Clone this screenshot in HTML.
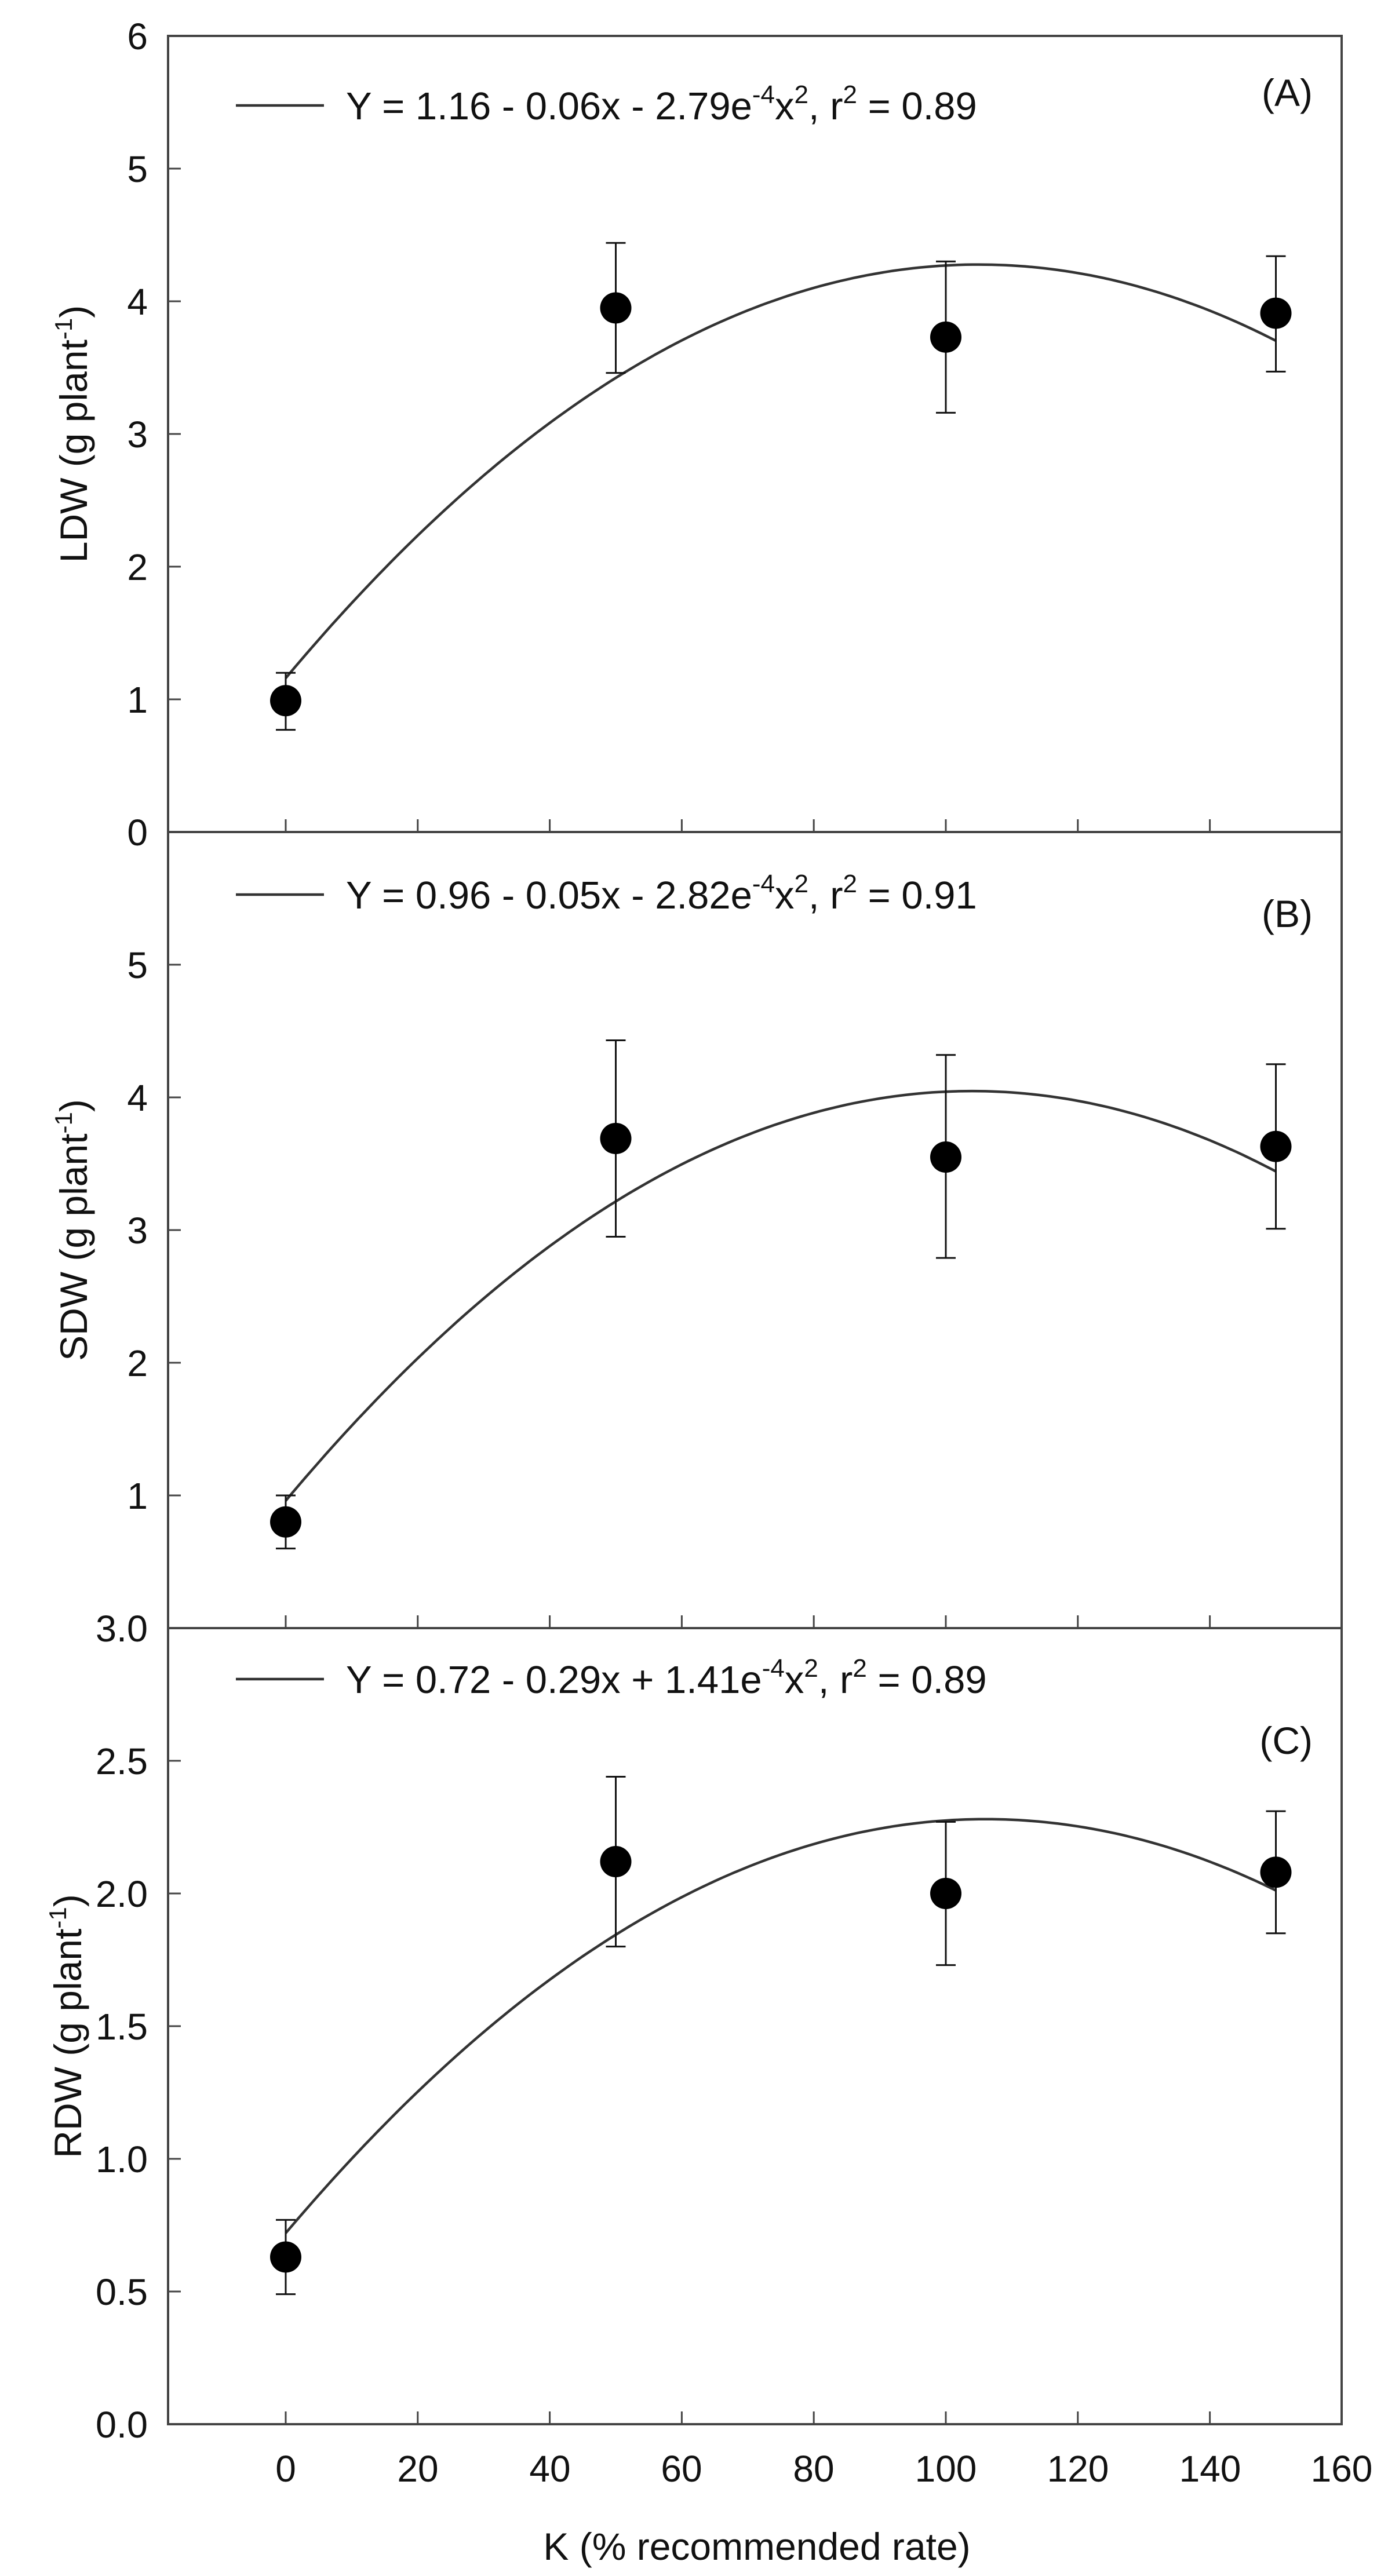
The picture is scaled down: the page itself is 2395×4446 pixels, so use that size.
<!DOCTYPE html>
<html><head><meta charset="utf-8"><style>html,body{margin:0;padding:0;background:#fff}svg{display:block}</style></head>
<body>
<svg width="2395" height="4446" viewBox="0 0 2395 4446" xmlns="http://www.w3.org/2000/svg" font-family="Liberation Sans, Arial, sans-serif" fill="#111">
<defs>
<style>
.ax{stroke:#444;stroke-width:4;fill:none}
.tk{stroke:#444;stroke-width:3}
.cv{stroke:#333;stroke-width:4.5;fill:none}
.eb{stroke:#111;stroke-width:3}
.tl{font-size:64px}
.lg{font-size:67px}
</style>
</defs>
<rect class="ax" x="290" y="62" width="2025" height="4122"/>
<line class="ax" x1="290" y1="1436" x2="2315" y2="1436"/>
<line class="ax" x1="290" y1="2810" x2="2315" y2="2810"/>

<g id="ticks"></g>
<g id="content"></g>

<g class="tl" text-anchor="middle">
<text x="493" y="4283">0</text><text x="721" y="4283">20</text><text x="949" y="4283">40</text>
<text x="1176" y="4283">60</text><text x="1404" y="4283">80</text><text x="1632" y="4283">100</text>
<text x="1860" y="4283">120</text><text x="2088" y="4283">140</text><text x="2315" y="4283">160</text>
</g>
<text x="1306" y="4418" font-size="66" text-anchor="middle">K (% recommended rate)</text>

<text transform="translate(150,749) rotate(-90)" font-size="66" text-anchor="middle">LDW (g plant<tspan font-size="42" dy="-26">-1</tspan><tspan dy="26">)</tspan></text>
<text transform="translate(150,2123) rotate(-90)" font-size="66" text-anchor="middle">SDW (g plant<tspan font-size="42" dy="-26">-1</tspan><tspan dy="26">)</tspan></text>
<text transform="translate(140,3497) rotate(-90)" font-size="66" text-anchor="middle">RDW (g plant<tspan font-size="42" dy="-26">-1</tspan><tspan dy="26">)</tspan></text>

<text x="2265" y="183" font-size="66" text-anchor="end">(A)</text>
<text x="2265" y="1600" font-size="66" text-anchor="end">(B)</text>
<text x="2265" y="3027" font-size="66" text-anchor="end">(C)</text>

<line class="cv" x1="407" y1="182" x2="559" y2="182"/>
<text class="lg" x="597" y="206">Y = 1.16 - 0.06x - 2.79e<tspan font-size="44" dy="-28">-4</tspan><tspan dy="28">x</tspan><tspan font-size="44" dy="-28">2</tspan><tspan dy="28">, r</tspan><tspan font-size="44" dy="-28">2</tspan><tspan dy="28"> = 0.89</tspan></text>
<line class="cv" x1="407" y1="1544" x2="559" y2="1544"/>
<text class="lg" x="597" y="1568">Y = 0.96 - 0.05x - 2.82e<tspan font-size="44" dy="-28">-4</tspan><tspan dy="28">x</tspan><tspan font-size="44" dy="-28">2</tspan><tspan dy="28">, r</tspan><tspan font-size="44" dy="-28">2</tspan><tspan dy="28"> = 0.91</tspan></text>
<line class="cv" x1="407" y1="2898" x2="559" y2="2898"/>
<text class="lg" x="597" y="2922">Y = 0.72 - 0.29x + 1.41e<tspan font-size="44" dy="-28">-4</tspan><tspan dy="28">x</tspan><tspan font-size="44" dy="-28">2</tspan><tspan dy="28">, r</tspan><tspan font-size="44" dy="-28">2</tspan><tspan dy="28"> = 0.89</tspan></text>

<script>
(function(){
var NS="http://www.w3.org/2000/svg";
function el(p,t,a,txt){var e=document.createElementNS(NS,t);for(var k in a)e.setAttribute(k,a[k]);if(txt!==undefined)e.textContent=txt;p.appendChild(e);return e;}
var T=document.getElementById('ticks'),C=document.getElementById('content');
function X(v){return 493+v*227.8/20;}
var panels=[
 {top:62,bot:1436,max:6,step:1,labels:[0,1,2,3,4,5,6],fmt:0,
  a:1.16,b:0.0594,c:-2.83e-4,
  pts:[[0,0.99,0.77,1.20],[50,3.95,3.46,4.44],[100,3.73,3.16,4.30],[150,3.91,3.47,4.34]]},
 {top:1436,bot:2810,max:6,step:1,labels:[1,2,3,4,5],fmt:0,
  a:0.96,b:0.0594,c:-2.857e-4,
  pts:[[0,0.80,0.60,1.00],[50,3.69,2.95,4.43],[100,3.55,2.79,4.32],[150,3.63,3.01,4.25]]},
 {top:2810,bot:4184,max:3,step:0.5,labels:[0,0.5,1,1.5,2,2.5,3],fmt:1,
  a:0.72,b:0.02943,c:-1.388e-4,
  pts:[[0,0.63,0.49,0.77],[50,2.12,1.80,2.44],[100,2.00,1.73,2.27],[150,2.08,1.85,2.31]]}
];
panels.forEach(function(p){
 function Y(v){return p.bot-(v/p.max)*(p.bot-p.top);}
 for(var v=0;v<=p.max+1e-9;v+=p.step){var y=Y(v);el(T,'line',{'class':'tk',x1:290,y1:y,x2:312,y2:y});}
 p.labels.forEach(function(v){
   var a={x:255,y:Y(v)+23,'font-size':64,'text-anchor':'end'};
   if(p.fmt){a.textLength=90;a.lengthAdjust='spacingAndGlyphs';}
   el(T,'text',a,p.fmt?v.toFixed(1):String(v));});
 for(var k=0;k<=8;k++){var x=X(k*20);el(T,'line',{'class':'tk',x1:x,y1:p.bot,x2:x,y2:p.bot-22});}
 var d='';for(var xv=0;xv<=150;xv+=1){var yv=p.a+p.b*xv+p.c*xv*xv;d+=(xv?'L':'M')+X(xv).toFixed(1)+' '+Y(yv).toFixed(1);}
 el(C,'path',{'class':'cv',d:d});
 p.pts.forEach(function(q){var x=X(q[0]);
  el(C,'line',{'class':'eb',x1:x,y1:Y(q[2]),x2:x,y2:Y(q[3])});
  el(C,'line',{'class':'eb',x1:x-17,y1:Y(q[2]),x2:x+17,y2:Y(q[2])});
  el(C,'line',{'class':'eb',x1:x-17,y1:Y(q[3]),x2:x+17,y2:Y(q[3])});
  el(C,'circle',{cx:x,cy:Y(q[1]),r:27,fill:'#000'});
 });
});
})();
</script>
</svg>
</body></html>
